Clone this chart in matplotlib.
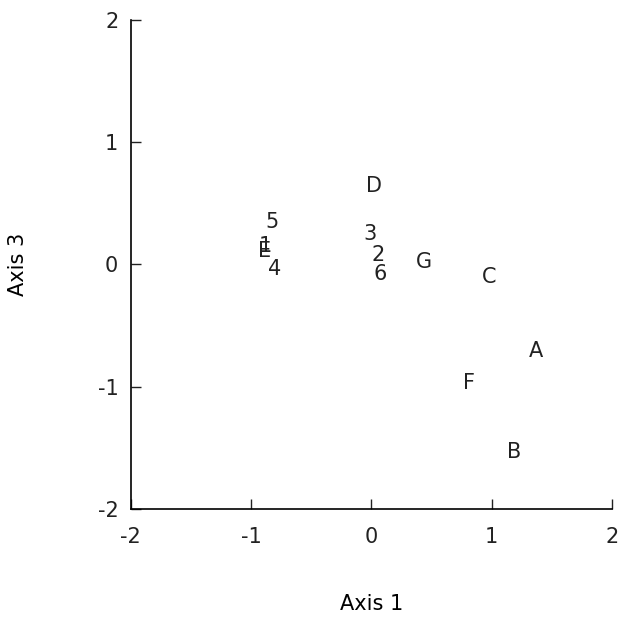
import matplotlib.pyplot as plt

plt.rcParams['font.family'] = ['Liberation Sans Narrow', 'DejaVu Sans']
plt.rcParams['axes.unicode_minus'] = False

# ordination scores
labels = ['D', '5', '3', 'E', '1', '2', 'G', '4', '6', 'C', 'A', 'F', 'B']
axis1 = [0.02, -0.83, -0.01, -0.89, -0.88, 0.06, 0.44, -0.80, 0.075, 0.98, 1.37, 0.81, 1.19]
axis3 = [0.64, 0.35, 0.25, 0.11, 0.15, 0.08, 0.02, -0.04, -0.08, -0.10, -0.71, -0.97, -1.53]
ticks = [-2, -1, 0, 1, 2]

fig = plt.figure(figsize=(6.23, 6.17), dpi=100)
ax = fig.add_axes([0.210, 0.175, 0.772, 0.793])

for lab, x, y in zip(labels, axis1, axis3):
    ax.text(x, y, lab, ha='center', va='center', fontsize=15, color='#222222')

ax.set_xlim(-2, 2)
ax.set_ylim(-2, 2)
ax.set_xticks(ticks)
ax.set_yticks(ticks)
ax.spines['top'].set_visible(False)
ax.spines['right'].set_visible(False)
ax.spines['left'].set_linewidth(1.2)
ax.spines['bottom'].set_linewidth(1.2)
ax.tick_params(direction='in', length=7, width=1, labelsize=15, pad=13, colors='#222222')
ax.tick_params(axis='y', pad=9)

ax.set_xlabel('Axis 1', fontsize=15, labelpad=34)
ax.set_ylabel('Axis 3', fontsize=15, labelpad=50)

fig.savefig('out.png', dpi=100)
